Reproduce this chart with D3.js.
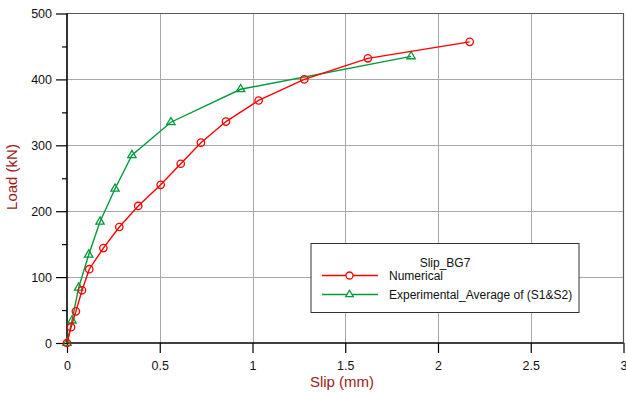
<!DOCTYPE html>
<html lang="en">
<head>
    <meta charset="UTF-8">
    <title>Slip_BG7</title>
    <script src="https://d3js.org/d3.v7.min.js"></script>
    <style>
        * {
            margin: 0;
            padding: 0;
            box-sizing: border-box;
        }

        html, body {
            width: 626px;
            height: 393px;
            overflow: clip;
            background: #fff;
        }

        svg {
            display: block;
            font-family: "Liberation Sans", Arial, sans-serif;
        }
    </style>
</head>
<body>
<svg id="chart" width="626" height="393"></svg>
<script>
    // load-slip curves, slip in mm, load in kN
    const numSlip = [ 0, 0.022, 0.048, 0.081, 0.12, 0.196, 0.282, 0.384, 0.505, 0.613, 0.722, 0.857, 1.033, 1.279, 1.622, 2.171 ]
    const numLoad = [ 0, 24, 48, 80, 112, 144, 176, 208, 240, 272, 304, 336, 368, 400, 432, 457 ]
    const expSlip = [ 0, 0.027, 0.063, 0.117, 0.178, 0.259, 0.35, 0.56, 0.936, 1.855 ]
    const expLoad = [ 0, 34, 84, 134, 184, 234, 285, 335, 385, 435 ]

    const xTicks = [ 0, 0.5, 1, 1.5, 2, 2.5, 3 ]
    const yTicks = [ 0, 100, 200, 300, 400, 500 ]
    const yMinorTicks = [ 50, 150, 250, 350, 450 ]

    const seriesNames = [ "Numerical", "Experimental_Average of (S1&S2)" ]
    const legendTitle = "Slip_BG7"

    const red = "#ff0000"
    const green = "#009a3a"
    const labelColor = "#9c1a1a"

    const svg = d3.select("#chart")
    const pLeft = 67, pRight = 623.5, pTop = 13.5, pBottom = 343

    const x = d3.scaleLinear().domain([ 0, 3 ]).range([ pLeft, pRight ])
    const y = d3.scaleLinear().domain([ 0, 500 ]).range([ pBottom, pTop ])

    // grid
    const grid = svg.append("g").attr("stroke", "#a8a8a8").attr("stroke-width", 1)
    grid.selectAll("line.v")
        .data(xTicks.slice(1, -1))
        .join("line")
        .attr("class", "v")
        .attr("x1", d => Math.round(x(d)) + 0.5)
        .attr("x2", d => Math.round(x(d)) + 0.5)
        .attr("y1", pTop)
        .attr("y2", pBottom)
    grid.selectAll("line.h")
        .data(yTicks.slice(1, -1))
        .join("line")
        .attr("class", "h")
        .attr("x1", pLeft)
        .attr("x2", pRight)
        .attr("y1", d => Math.round(y(d)) + 0.5)
        .attr("y2", d => Math.round(y(d)) + 0.5)

    // frame top and right
    svg.append("path")
        .attr("d", `M${pLeft},${pTop} H${pRight} V${pBottom}`)
        .attr("fill", "none")
        .attr("stroke", "#555")
        .attr("stroke-width", 1.2)

    // axes
    const xAxis = d3.axisBottom(x).tickValues(xTicks).tickSize(10).tickPadding(8)
        .tickFormat(d3.format("~g"))
    const gx = svg.append("g").attr("transform", `translate(0,${pBottom})`).call(xAxis)
    const yAxis = d3.axisLeft(y).tickValues(yTicks).tickSize(11).tickPadding(4)
    const gy = svg.append("g").attr("transform", `translate(${pLeft},0)`).call(yAxis)
    svg.append("g")
        .attr("transform", `translate(${pLeft},0)`)
        .call(d3.axisLeft(y).tickValues(yMinorTicks).tickSize(5).tickFormat(""))
        .select(".domain").remove()
    for (const g of [ gx, gy ]) {
        g.select(".domain").attr("stroke", "#000").attr("stroke-width", 1.6)
            .attr("d", g === gx ? `M${pLeft},0H${pRight}` : `M0,${pTop}V${pBottom}`)
        g.selectAll("text").attr("font-size", 12.5).attr("fill", "#111")
            .style("font-family", "Liberation Sans, Arial, sans-serif")
    }
    svg.selectAll(".tick line").attr("stroke", "#000").attr("stroke-width", 1.2)

    // axis titles
    svg.append("text")
        .attr("x", 342)
        .attr("y", 387)
        .attr("text-anchor", "middle")
        .attr("font-size", 15)
        .attr("fill", labelColor)
        .text("Slip (mm)")
    svg.append("text")
        .attr("transform", `translate(16.5,177) rotate(-90)`)
        .attr("text-anchor", "middle")
        .attr("font-size", 15)
        .attr("fill", labelColor)
        .text("Load (kN)")

    const line = d3.line().x(d => x(d[0])).y(d => y(d[1]))
    const numPts = numSlip.map((s, i) => [ s, numLoad[i] ])
    const expPts = expSlip.map((s, i) => [ s, expLoad[i] ])

    const tri = d3.symbol().type(d3.symbolTriangle).size(30)

    // experimental curve
    svg.append("path").datum(expPts)
        .attr("d", line).attr("fill", "none")
        .attr("stroke", green).attr("stroke-width", 1.4)
    svg.selectAll("path.tri")
        .data(expPts)
        .join("path")
        .attr("class", "tri")
        .attr("d", tri)
        .attr("transform", d => `translate(${x(d[0])},${y(d[1])})`)
        .attr("fill", "none")
        .attr("stroke", green)
        .attr("stroke-width", 1.3)

    // numerical curve
    svg.append("path").datum(numPts)
        .attr("d", line).attr("fill", "none")
        .attr("stroke", red).attr("stroke-width", 1.4)
    svg.selectAll("circle.num")
        .data(numPts)
        .join("circle")
        .attr("class", "num")
        .attr("cx", d => x(d[0]))
        .attr("cy", d => y(d[1]))
        .attr("r", 3.7)
        .attr("fill", "none")
        .attr("stroke", red)
        .attr("stroke-width", 1.3)

    // legend
    const lg = svg.append("g").attr("transform", "translate(311,243.5)")
    lg.append("rect")
        .attr("width", 268).attr("height", 69)
        .attr("fill", "#fff").attr("stroke", "#333").attr("stroke-width", 1)
    lg.append("text")
        .attr("x", 134).attr("y", 23)
        .attr("text-anchor", "middle")
        .attr("font-size", 12).attr("fill", "#111")
        .text(legendTitle)
    const rows = lg.selectAll("g.row")
        .data(seriesNames)
        .join("g")
        .attr("class", "row")
        .attr("transform", (_, i) => `translate(0,${32 + i * 19})`)
    rows.append("line")
        .attr("x1", 11).attr("x2", 67)
        .attr("stroke", (_, i) => i ? green : red)
        .attr("stroke-width", 1.4)
    rows.each(function (_, i) {
        const r = d3.select(this)
        if (i === 0) {
            r.append("circle").attr("cx", 38.5).attr("r", 3.5)
                .attr("fill", "#fff").attr("stroke", red).attr("stroke-width", 1.3)
        } else {
            r.append("path").attr("d", d3.symbol().type(d3.symbolTriangle).size(24))
                .attr("transform", "translate(38.5,0)")
                .attr("fill", "#fff").attr("stroke", green).attr("stroke-width", 1.3)
        }
    })
    rows.append("text")
        .attr("x", 78).attr("y", 4)
        .attr("font-size", 12).attr("fill", "#111")
        .text(d => d)
</script>
</body>
</html>
